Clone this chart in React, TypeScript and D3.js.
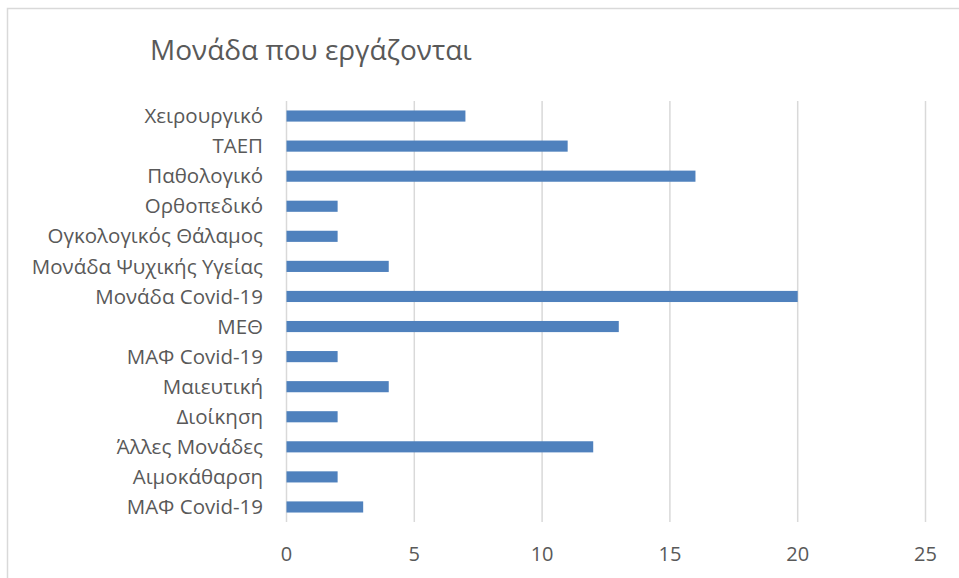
import React from "react";
import * as d3 from "d3";

const categories = [
  "Χειρουργικό",
  "ΤΑΕΠ",
  "Παθολογικό",
  "Ορθοπεδικό",
  "Ογκολογικός Θάλαμος",
  "Μονάδα Ψυχικής Υγείας",
  "Μονάδα Covid-19",
  "ΜΕΘ",
  "ΜΑΦ Covid-19",
  "Μαιευτική",
  "Διοίκηση",
  "Άλλες Μονάδες",
  "Αιμοκάθαρση",
  "ΜΑΦ Covid-19",
];
const values = [7, 11, 16, 2, 2, 4, 20, 13, 2, 4, 2, 12, 2, 3];
const xTicks = [0, 5, 10, 15, 20, 25];
const title = "Μονάδα που εργάζονται";

const W = 959;
const H = 578;
const FONT = "'Open Sans', sans-serif";

export default function App() {
  const x = d3.scaleLinear().domain([0, 25]).range([286.5, 925.5]);
  const y = d3
    .scaleBand<number>()
    .domain(d3.range(categories.length))
    .range([101, 522])
    .paddingInner(0.63)
    .paddingOuter(0.315);
  return (
    <svg
      width={W}
      height={H}
      style={{ position: "absolute", left: 0, top: 0, background: "#fff" }}
    >
      <rect x={7.5} y={8.5} width={W + 10} height={H + 10} fill="#fff" stroke="#d9d9d9" strokeWidth={1.5} />
      <text x={150} y={60} fontFamily={FONT} fontSize={28} fill="#595959">
        {title}
      </text>
      {xTicks.map((t) => (
        <line key={t} x1={x(t)} x2={x(t)} y1={101} y2={522} stroke="#d9d9d9" strokeWidth={1.5} />
      ))}
      {values.map((v, i) => (
        <rect
          key={i}
          x={x(0)}
          y={y(i)!}
          width={x(v) - x(0)}
          height={y.bandwidth()}
          fill="#4f81bd"
        />
      ))}
      {categories.map((c, i) => (
        <text
          key={i}
          x={263}
          y={y(i)! + y.bandwidth() / 2}
          dy="0.35em"
          textAnchor="end"
          fontFamily={FONT}
          fontSize={20.5}
          fill="#595959"
        >
          {c}
        </text>
      ))}
      {xTicks.map((t) => (
        <text
          key={t}
          x={x(t)}
          y={554}
          dy="0.35em"
          textAnchor="middle"
          fontFamily={FONT}
          fontSize={20}
          fill="#595959"
        >
          {t}
        </text>
      ))}
    </svg>
  );
}
